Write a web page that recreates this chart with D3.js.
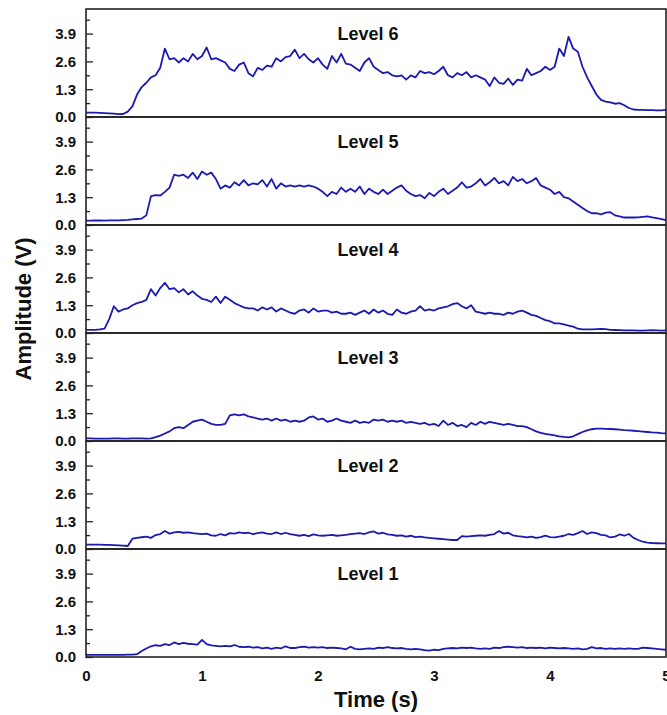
<!DOCTYPE html>
<html>
<head>
<meta charset="utf-8">
<script src="https://cdn.jsdelivr.net/npm/d3@7"></script>
<style>
  body { margin: 0; background: #fff; }
  text { font-family: "Liberation Sans", Arial, sans-serif; font-weight: bold; fill: #111; }
</style>
</head>
<body>
<svg id="chart" width="667" height="715"></svg>
<script>
// sampled every 0.04 s from 0 to 5 s
var sampleStep = 0.04;

var level6 = [
  0.20,0.20,0.20,0.19,0.18,0.17,0.16,0.13,0.14,0.25,
  0.50,1.05,1.40,1.60,1.85,1.95,2.30,3.20,2.70,2.75,
  2.55,2.75,2.60,2.95,2.70,2.85,3.25,2.70,2.75,2.65,
  2.55,2.25,2.15,2.45,2.55,2.05,1.90,2.30,2.20,2.40,
  2.35,2.75,2.60,2.80,2.85,3.15,2.75,2.95,2.70,2.55,
  2.75,2.45,2.25,2.85,2.55,2.95,2.50,2.45,2.30,2.15,
  2.55,2.75,2.35,2.20,2.05,2.10,1.95,1.90,1.95,1.75,
  1.95,1.85,2.15,2.05,2.10,2.00,2.15,2.35,1.95,1.85,
  2.05,1.95,2.10,1.85,1.95,1.85,1.75,1.45,1.85,1.60,
  1.55,1.80,1.50,1.75,1.70,2.25,1.95,2.05,2.15,2.35,
  2.20,2.35,3.20,2.85,3.75,3.20,3.05,2.35,1.85,1.45,
  1.05,0.80,0.72,0.68,0.62,0.65,0.55,0.42,0.35,0.33,
  0.33,0.32,0.32,0.31,0.31,0.33
];
var level5 = [
  0.20,0.20,0.21,0.21,0.20,0.22,0.22,0.22,0.23,0.24,
  0.26,0.28,0.30,0.45,1.35,1.40,1.38,1.55,1.75,2.35,
  2.30,2.35,2.20,2.45,2.15,2.50,2.35,2.45,2.15,1.70,
  1.85,1.75,2.00,1.85,2.10,1.85,1.95,1.90,2.10,1.80,
  2.15,1.70,1.95,1.80,1.85,1.80,1.85,1.80,1.85,1.80,
  1.70,1.55,1.35,1.55,1.45,1.75,1.55,1.70,1.55,1.80,
  1.45,1.70,1.55,1.45,1.65,1.45,1.60,1.75,1.85,1.60,
  1.45,1.35,1.40,1.25,1.50,1.35,1.55,1.70,1.45,1.60,
  1.75,2.00,1.75,1.80,1.95,2.15,1.85,2.00,2.20,1.95,
  2.05,1.85,2.25,2.05,2.15,1.95,2.05,2.20,1.85,1.75,
  1.65,1.45,1.55,1.30,1.25,1.10,0.95,0.80,0.65,0.55,
  0.55,0.50,0.58,0.60,0.45,0.40,0.35,0.35,0.35,0.36,
  0.38,0.40,0.36,0.32,0.28,0.23
];
var level4 = [
  0.15,0.15,0.15,0.17,0.20,0.65,1.25,1.00,1.10,1.15,
  1.30,1.40,1.45,1.55,2.05,1.75,2.10,2.35,2.05,2.10,
  1.90,2.05,1.80,1.95,1.75,1.60,1.55,1.45,1.70,1.40,
  1.70,1.55,1.40,1.30,1.20,1.15,1.15,1.05,1.20,1.10,
  1.20,1.00,1.15,1.05,0.95,0.90,1.05,1.10,0.95,1.15,
  1.00,1.05,1.05,0.95,1.00,0.90,0.90,0.95,0.85,0.95,
  1.05,0.90,1.10,0.95,1.05,0.90,0.85,1.10,0.95,0.90,
  1.00,1.05,1.25,1.05,1.10,1.05,1.15,1.20,1.25,1.35,
  1.40,1.25,1.15,1.30,1.00,0.95,0.90,0.95,0.90,0.90,
  0.85,0.95,0.90,1.00,1.05,0.95,0.85,0.80,0.70,0.60,
  0.55,0.45,0.45,0.40,0.35,0.30,0.20,0.17,0.17,0.17,
  0.18,0.19,0.18,0.15,0.14,0.13,0.12,0.12,0.12,0.11,
  0.11,0.12,0.13,0.12,0.11,0.12
];
var level3 = [
  0.12,0.12,0.11,0.11,0.11,0.11,0.12,0.12,0.11,0.11,
  0.12,0.12,0.12,0.11,0.12,0.18,0.25,0.35,0.45,0.60,
  0.65,0.60,0.75,0.90,0.95,1.00,0.90,0.80,0.75,0.75,
  0.80,1.20,1.25,1.20,1.25,1.15,1.10,1.05,1.00,1.05,
  0.95,1.05,0.95,1.00,0.90,0.95,0.90,0.95,1.10,1.15,
  1.00,1.05,0.90,0.95,1.05,0.95,0.90,0.85,0.95,0.85,
  0.90,0.85,1.00,0.95,1.00,0.90,0.95,0.90,0.95,0.85,
  0.90,0.85,0.80,0.85,0.75,0.80,0.70,0.95,0.75,0.85,
  0.70,0.75,0.65,0.85,0.75,0.90,0.80,0.90,0.85,0.80,
  0.75,0.80,0.75,0.70,0.70,0.65,0.55,0.45,0.38,0.33,
  0.30,0.26,0.22,0.19,0.17,0.22,0.32,0.42,0.50,0.55,
  0.58,0.58,0.57,0.56,0.55,0.53,0.51,0.50,0.48,0.46,
  0.44,0.42,0.40,0.39,0.37,0.36
];
var level2 = [
  0.20,0.20,0.20,0.20,0.19,0.19,0.18,0.17,0.16,0.14,
  0.48,0.52,0.55,0.58,0.52,0.65,0.70,0.84,0.72,0.78,
  0.80,0.76,0.78,0.74,0.72,0.70,0.72,0.64,0.62,0.70,
  0.64,0.74,0.72,0.78,0.74,0.76,0.70,0.74,0.78,0.72,
  0.70,0.78,0.70,0.76,0.70,0.66,0.62,0.66,0.60,0.68,
  0.64,0.62,0.64,0.66,0.62,0.64,0.66,0.70,0.72,0.74,
  0.70,0.78,0.82,0.72,0.76,0.68,0.66,0.62,0.64,0.58,
  0.62,0.56,0.58,0.54,0.52,0.50,0.48,0.46,0.44,0.42,
  0.42,0.60,0.58,0.60,0.62,0.64,0.62,0.66,0.70,0.84,
  0.72,0.76,0.64,0.60,0.58,0.54,0.58,0.52,0.56,0.62,
  0.56,0.54,0.58,0.62,0.70,0.66,0.74,0.84,0.70,0.78,
  0.74,0.66,0.64,0.54,0.58,0.68,0.62,0.70,0.52,0.42,
  0.34,0.30,0.28,0.27,0.26,0.26
];
var level1 = [
  0.10,0.10,0.10,0.10,0.10,0.10,0.10,0.10,0.10,0.11,
  0.11,0.13,0.28,0.40,0.50,0.55,0.52,0.60,0.56,0.68,
  0.60,0.66,0.62,0.60,0.58,0.80,0.60,0.54,0.52,0.50,
  0.52,0.50,0.56,0.48,0.46,0.48,0.44,0.46,0.40,0.44,
  0.38,0.44,0.40,0.50,0.42,0.42,0.46,0.48,0.44,0.46,
  0.44,0.46,0.42,0.44,0.42,0.40,0.36,0.48,0.38,0.36,
  0.38,0.40,0.38,0.44,0.42,0.46,0.42,0.40,0.42,0.38,
  0.36,0.38,0.36,0.32,0.30,0.34,0.32,0.38,0.40,0.42,
  0.40,0.44,0.42,0.44,0.40,0.38,0.40,0.38,0.44,0.42,
  0.46,0.48,0.46,0.44,0.46,0.42,0.44,0.42,0.44,0.40,
  0.44,0.42,0.40,0.42,0.40,0.38,0.40,0.36,0.38,0.46,
  0.40,0.42,0.38,0.40,0.38,0.40,0.38,0.40,0.38,0.38,
  0.44,0.42,0.40,0.38,0.36,0.34
];

// top to bottom
var panelNames = ["Level 6", "Level 5", "Level 4", "Level 3", "Level 2", "Level 1"];
var panelData = [level6, level5, level4, level3, level2, level1];

var yMajor = [0, 1.3, 2.6, 3.9];
var yMinor = [0.65, 1.95, 3.25, 4.55];
var xTicks = [0, 1, 2, 3, 4, 5];

var plotLeft = 86, plotRight = 666, plotTop = 9, panelH = 108;

var svg = d3.select("#chart");

var x = d3.scaleLinear().domain([0, 5]).range([plotLeft, plotRight]);
var y = d3.scaleLinear().domain([0, 5.05]).range([panelH, 0]);

var line = d3.line()
  .x(function(d, i) { return x(i * sampleStep); })
  .y(function(d) { return y(d); });

function styleTickText(sel) {
  sel.style("font-size", "15px")
    .style("font-family", "'Liberation Sans', Arial, sans-serif")
    .style("font-weight", "bold")
    .attr("fill", "#111");
}

for (var p = 0; p < panelData.length; p++) {
  var g = svg.append("g").attr("transform", "translate(0," + (plotTop + p * panelH) + ")");

  g.append("path")
    .datum(panelData[p])
    .attr("d", line)
    .attr("fill", "none")
    .attr("stroke", "#1a1ab0")
    .attr("stroke-width", 1.8)
    .attr("stroke-linejoin", "round");

  // minor ticks first, then major ticks with labels
  var minor = g.append("g").attr("transform", "translate(" + plotLeft + ",0)")
    .call(d3.axisLeft(y).tickValues(yMinor).tickSize(-4).tickFormat(""));
  minor.select(".domain").remove();
  minor.selectAll("line").attr("stroke", "#222").attr("stroke-width", 1.3);

  var major = g.append("g").attr("transform", "translate(" + plotLeft + ",0)")
    .call(d3.axisLeft(y).tickValues(yMajor).tickSize(-7).tickPadding(10).tickFormat(d3.format(".1f")));
  major.select(".domain").remove();
  major.selectAll("line").attr("stroke", "#222").attr("stroke-width", 1.3);
  styleTickText(major.selectAll("text"));

  g.append("rect")
    .attr("x", plotLeft)
    .attr("y", 0)
    .attr("width", plotRight - plotLeft)
    .attr("height", panelH)
    .attr("fill", "none")
    .attr("stroke", "#222")
    .attr("stroke-width", 1.6);

  g.append("text")
    .attr("x", 368)
    .attr("y", 31)
    .attr("text-anchor", "middle")
    .style("font-size", "18px")
    .text(panelNames[p]);
}

var plotBottom = plotTop + panelData.length * panelH;

var xAxis = svg.append("g").attr("transform", "translate(0," + plotBottom + ")")
  .call(d3.axisBottom(x).tickValues(xTicks).tickSize(0).tickPadding(13).tickFormat(d3.format("d")));
xAxis.select(".domain").remove();
styleTickText(xAxis.selectAll("text"));

svg.append("text")
  .attr("x", 376)
  .attr("y", 707)
  .attr("text-anchor", "middle")
  .style("font-size", "22px")
  .text("Time (s)");

svg.append("text")
  .attr("transform", "translate(31,309) rotate(-90)")
  .attr("text-anchor", "middle")
  .style("font-size", "22px")
  .text("Amplitude (V)");
</script>
</body>
</html>
